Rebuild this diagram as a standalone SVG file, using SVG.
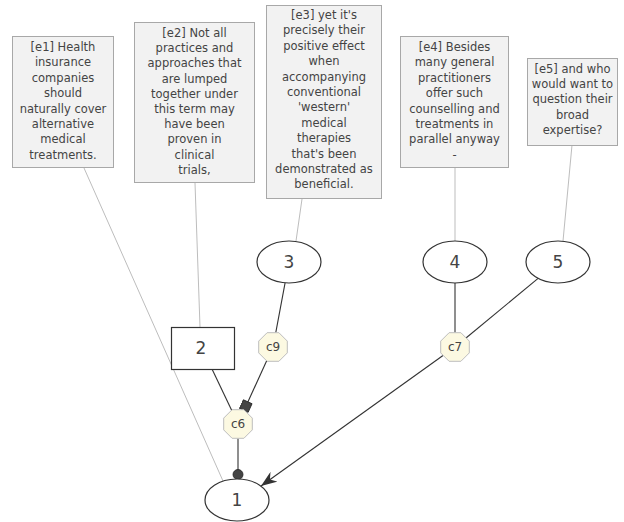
<svg xmlns="http://www.w3.org/2000/svg" width="624" height="522" viewBox="0 0 624 522">
<style>
.box{fill:#f2f2f2;stroke:#a8a8a8;stroke-width:1}
.bt{font-family:"DejaVu Sans",sans-serif;font-size:11.5px;fill:#444;text-anchor:middle}
.node{fill:#fff;stroke:#333;stroke-width:1.2}
.nl{font-family:"DejaVu Sans",sans-serif;font-size:17px;fill:#444;text-anchor:middle}
.oct{fill:#fcf9e2;stroke:#bdbdbd;stroke-width:1}
.ol{font-family:"DejaVu Sans",sans-serif;font-size:12px;fill:#444;text-anchor:middle}
.lt{stroke:#bdbdbd;stroke-width:1;fill:none}
.dk{stroke:#333;stroke-width:1.1;fill:none}
</style>
<defs>
<polygon id="oct" points="-5.9,-14.3 5.9,-14.3 14.3,-5.9 14.3,5.9 5.9,14.3 -5.9,14.3 -14.3,5.9 -14.3,-5.9"/>
<marker id="sq" markerUnits="userSpaceOnUse" markerWidth="11" markerHeight="11" viewBox="0 0 11 11" refX="10.5" refY="5.5" orient="auto"><rect x="1" y="1" width="9.5" height="9.5" fill="#444" stroke="#222" stroke-width="0.8"/></marker>
<marker id="dot" markerUnits="userSpaceOnUse" markerWidth="12" markerHeight="12" viewBox="0 0 12 12" refX="11" refY="6" orient="auto"><circle cx="6" cy="6" r="5" fill="#444" stroke="#222" stroke-width="0.8"/></marker>
<marker id="arr" markerUnits="userSpaceOnUse" markerWidth="17" markerHeight="12" viewBox="0 0 17 12" refX="16" refY="6" orient="auto"><path d="M0,0 L16,6 L0,12 L5,6 z" fill="#333"/></marker>
</defs>

<g id="connectors">
<line class="lt" x1="84" y1="168" x2="223" y2="481"/>
<line class="lt" x1="195" y1="183" x2="200" y2="327"/>
<line class="lt" x1="302" y1="199" x2="296" y2="241"/>
<line class="lt" x1="455" y1="168" x2="455" y2="241"/>
<line class="lt" x1="572" y1="145" x2="563" y2="241"/>
<line class="dk" x1="285.1" y1="282.8" x2="275.8" y2="332.5"/>
<line class="dk" x1="266.8" y1="360.5" x2="244" y2="410.5" marker-end="url(#sq)"/>
<line class="dk" x1="212" y1="369" x2="232" y2="411"/>
<line class="dk" x1="238" y1="438.5" x2="238" y2="479.5" marker-end="url(#dot)"/>
<line class="dk" x1="455" y1="283" x2="455" y2="332.5"/>
<line class="dk" x1="538.1" y1="278.4" x2="466" y2="338"/>
<line class="dk" x1="443" y1="355.5" x2="261" y2="486" marker-end="url(#arr)"/>
</g>

<g id="e1">
<rect class="box" x="12.5" y="36.5" width="101" height="131"/>
<text class="bt" x="63" y="51"><tspan x="63">[e1] Health</tspan><tspan x="63" dy="15.4">insurance</tspan><tspan x="63" dy="15.4">companies</tspan><tspan x="63" dy="15.4">should</tspan><tspan x="63" dy="15.4">naturally cover</tspan><tspan x="63" dy="15.4">alternative</tspan><tspan x="63" dy="15.4">medical</tspan><tspan x="63" dy="15.4">treatments.</tspan></text>
</g>
<g id="e2">
<rect class="box" x="134.5" y="22.5" width="120" height="160"/>
<text class="bt" x="194.5" y="37"><tspan x="194.5">[e2] Not all</tspan><tspan x="194.5" dy="15.2">practices and</tspan><tspan x="194.5" dy="15.2">approaches that</tspan><tspan x="194.5" dy="15.2">are lumped</tspan><tspan x="194.5" dy="15.2">together under</tspan><tspan x="194.5" dy="15.2">this term may</tspan><tspan x="194.5" dy="15.2">have been</tspan><tspan x="194.5" dy="15.2">proven in</tspan><tspan x="194.5" dy="15.2">clinical</tspan><tspan x="194.5" dy="15.2">trials,</tspan></text>
</g>
<g id="e3">
<rect class="box" x="266.5" y="5.5" width="115" height="193"/>
<text class="bt" x="324" y="19"><tspan x="324">[e3] yet it's</tspan><tspan x="324" dy="15.4">precisely their</tspan><tspan x="324" dy="15.4">positive effect</tspan><tspan x="324" dy="15.4">when</tspan><tspan x="324" dy="15.4">accompanying</tspan><tspan x="324" dy="15.4">conventional</tspan><tspan x="324" dy="15.4">'western'</tspan><tspan x="324" dy="15.4">medical</tspan><tspan x="324" dy="15.4">therapies</tspan><tspan x="324" dy="15.4">that's been</tspan><tspan x="324" dy="15.4">demonstrated as</tspan><tspan x="324" dy="15.4">beneficial.</tspan></text>
</g>
<g id="e4">
<rect class="box" x="400.5" y="36.5" width="108" height="131"/>
<text class="bt" x="454.5" y="51"><tspan x="454.5">[e4] Besides</tspan><tspan x="454.5" dy="15.4">many general</tspan><tspan x="454.5" dy="15.4">practitioners</tspan><tspan x="454.5" dy="15.4">offer such</tspan><tspan x="454.5" dy="15.4">counselling and</tspan><tspan x="454.5" dy="15.4">treatments in</tspan><tspan x="454.5" dy="15.4">parallel anyway</tspan><tspan x="454.5" dy="15.4">-</tspan></text>
</g>
<g id="e5">
<rect class="box" x="527.5" y="58.5" width="90" height="87"/>
<text class="bt" x="572.5" y="73"><tspan x="572.5">[e5] and who</tspan><tspan x="572.5" dy="15.2">would want to</tspan><tspan x="572.5" dy="15.2">question their</tspan><tspan x="572.5" dy="15.2">broad</tspan><tspan x="572.5" dy="15.2">expertise?</tspan></text>
</g>

<g id="n3"><ellipse class="node" cx="289" cy="262" rx="32" ry="21"/><text class="nl" x="289" y="268">3</text></g>
<g id="n4"><ellipse class="node" cx="455" cy="262" rx="32" ry="21"/><text class="nl" x="455" y="268">4</text></g>
<g id="n5"><ellipse class="node" cx="558" cy="262" rx="32" ry="21"/><text class="nl" x="558" y="268">5</text></g>
<g id="n2"><rect class="node" x="171.5" y="327.5" width="63" height="42"/><text class="nl" x="201" y="354">2</text></g>
<g id="n1"><ellipse class="node" cx="237" cy="500" rx="32" ry="21"/><text class="nl" x="237" y="506">1</text></g>
<g id="c9"><use href="#oct" class="oct" x="273" y="347"/><text class="ol" x="273" y="351">c9</text></g>
<g id="c6"><use href="#oct" class="oct" x="238" y="424"/><text class="ol" x="238" y="428">c6</text></g>
<g id="c7"><use href="#oct" class="oct" x="455" y="347"/><text class="ol" x="455" y="351">c7</text></g>
</svg>
